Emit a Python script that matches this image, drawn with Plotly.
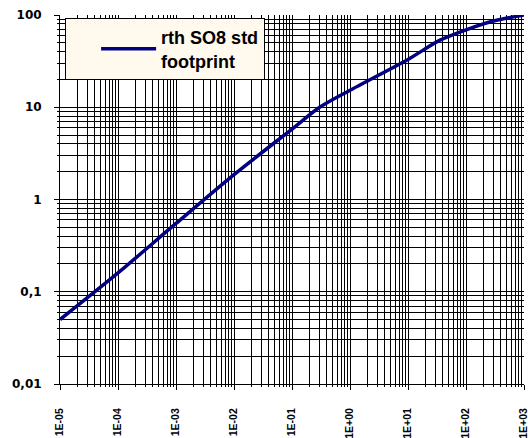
import plotly.graph_objects as go

# time (s) and thermal impedance values
t_values = [1e-5, 1e-4, 1e-3, 1e-2, 1e-1, 0.3, 1, 10, 35, 100, 300, 1000]
rth_values = [0.05, 0.16, 0.55, 1.86, 5.8, 10.0, 15.3, 33, 53, 69, 86, 100]

series_name = "rth SO8 std<br>footprint"

x_tickvals = [1e-5, 1e-4, 1e-3, 1e-2, 1e-1, 1, 10, 100, 1000]
x_ticktext = ["1E-05", "1E-04", "1E-03", "1E-02", "1E-01", "1E+00", "1E+01", "1E+02", "1E+03"]
y_tickvals = [0.01, 0.1, 1, 10, 100]
y_ticktext = ["0,01", "0,1", "1", "10", "100"]

fig = go.Figure()
fig.add_trace(go.Scatter(
    x=t_values, y=rth_values, mode="lines", name=series_name,
    line=dict(color="#000080", width=3.5, shape="spline", smoothing=0.8),
    showlegend=True,
))

grid = dict(showgrid=True, gridcolor="black", gridwidth=1)
fig.update_layout(
    width=528, height=438,
    margin=dict(l=60, r=4, t=15, b=54),
    paper_bgcolor="white", plot_bgcolor="white",
    font=dict(family="Arial, Liberation Sans, sans-serif", color="black"),
    showlegend=True,
    legend=dict(
        x=0.011, y=0.992, xanchor="left", yanchor="top",
        bgcolor="#FFF9EE", bordercolor="black", borderwidth=1,
        font=dict(size=18, family="Arial, Liberation Sans, sans-serif", weight="bold"),
        itemwidth=55, indentation=30, entrywidth=226, entrywidthmode="pixels",
    ),
    xaxis=dict(
        type="log", range=[-5, 3], tickvals=x_tickvals, ticktext=x_ticktext,
        tickangle=-90, ticks="outside", ticklen=5, tickcolor="black",
        tickfont=dict(size=10.5, weight="bold",
                      family="Arial, Liberation Sans, sans-serif"),
        ticklabelstandoff=14, ticklabeloverflow="allow",
        showline=True, linecolor="black", linewidth=1, mirror=False,
        zeroline=False, automargin=False,
        minor=dict(dtick="D1", showgrid=True, gridcolor="black", gridwidth=1,
                   ticks="outside", ticklen=2, tickcolor="black"),
        **grid,
    ),
    yaxis=dict(
        type="log", range=[-2, 2], tickvals=y_tickvals, ticktext=y_ticktext,
        ticks="outside", ticklen=5, tickcolor="black",
        tickfont=dict(size=12, weight="bold", family="DejaVu Sans, Verdana, sans-serif"),
        ticklabelstandoff=10,
        showline=True, linecolor="black", linewidth=1,
        zeroline=False, automargin=False,
        minor=dict(dtick="D1", showgrid=True, gridcolor="black", gridwidth=1,
                   ticks="outside", ticklen=2, tickcolor="black"),
        **grid,
    ),
)

fig.write_html("out.html", config={"displayModeBar": False},
               post_script="document.body.style.margin='0';")
